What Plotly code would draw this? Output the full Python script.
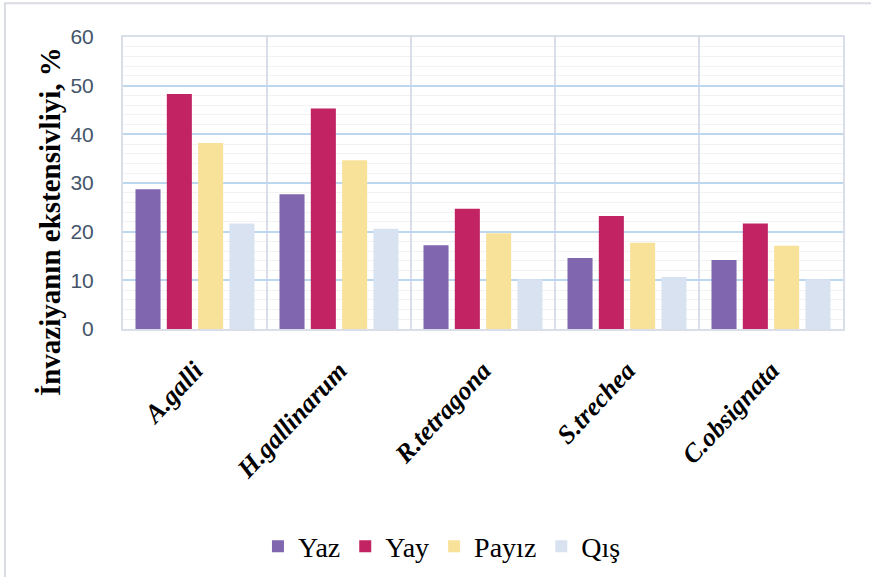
import plotly.graph_objects as go

# Parasite species (x categories)
species = ["A.galli", "H.gallinarum", "R.tetragona", "S.trechea", "C.obsignata"]

# Invasion extensity (%) by season
yaz = [28.7, 27.7, 17.2, 14.6, 14.2]
yay = [48.3, 45.3, 24.7, 23.2, 21.7]
payiz = [38.2, 34.7, 19.7, 17.7, 17.1]
qis = [21.7, 20.6, 10.2, 10.7, 10.2]

season_names = ["Yaz", "Yay", "Payız", "Qış"]
season_values = [yaz, yay, payiz, qis]
season_colors = ["#7f66ae", "#c22363", "#f8e29a", "#d9e2f1"]

y_ticks = [0, 10, 20, 30, 40, 50, 60]

SERIF = "Times New Roman"

fig = go.Figure()
for name, vals, col in zip(season_names, season_values, season_colors):
    fig.add_trace(go.Bar(
        x=species, y=vals, name=name,
        marker=dict(color=col, line=dict(width=0)),
    ))

border = "#d9dee8"

fig.update_layout(
    width=871, height=577,
    margin=dict(l=123, r=28, t=37, b=248, autoexpand=False),
    paper_bgcolor="white", plot_bgcolor="white",
    font=dict(family=SERIF, color="black"),
    barmode="group", bargap=0.13, bargroupgap=0.2,
    showlegend=True,
    legend=dict(
        orientation="h", x=0.443, xanchor="center", y=-0.745, yanchor="middle",
        font=dict(family=SERIF, size=28, color="black",
                  weight="normal", style="normal"),
        traceorder="normal", itemwidth=30,
    ),
    xaxis=dict(
        type="category", tickson="boundaries", ticks="", showgrid=True,
        gridcolor=border, gridwidth=2,
        showline=True, linecolor=border, linewidth=2, mirror=True,
        tickangle=-47, ticklabelstandoff=14, automargin=False,
        tickfont=dict(family=SERIF, size=26, color="black",
                      weight="bold", style="italic"),
    ),
    yaxis=dict(
        range=[0, 60], tickvals=y_ticks, showgrid=True,
        gridcolor="#bdd7ee", gridwidth=2,
        minor=dict(dtick=2, showgrid=True, gridcolor="#f2f2f2", gridwidth=1),
        showline=True, linecolor=border, linewidth=2, mirror=True,
        zeroline=False, ticks="", ticklabelstandoff=23, automargin=False,
        tickfont=dict(family="Liberation Sans", size=21, color="#44546a"),
    ),
    annotations=[dict(
        text="İnvaziyanın ekstensivliyi, %", textangle=-90,
        xref="paper", yref="paper", x=-0.102, y=0.368,
        xanchor="center", yanchor="middle", showarrow=False,
        font=dict(family=SERIF, size=29, color="black", weight="bold"),
    )],
    shapes=[dict(
        type="rect", xref="paper", yref="paper",
        x0=-0.164, x1=1.2, y0=-1.2, y1=1.116,
        line=dict(color="#d9dce3", width=2), layer="below",
    )],
)

fig.write_html("out.html")
